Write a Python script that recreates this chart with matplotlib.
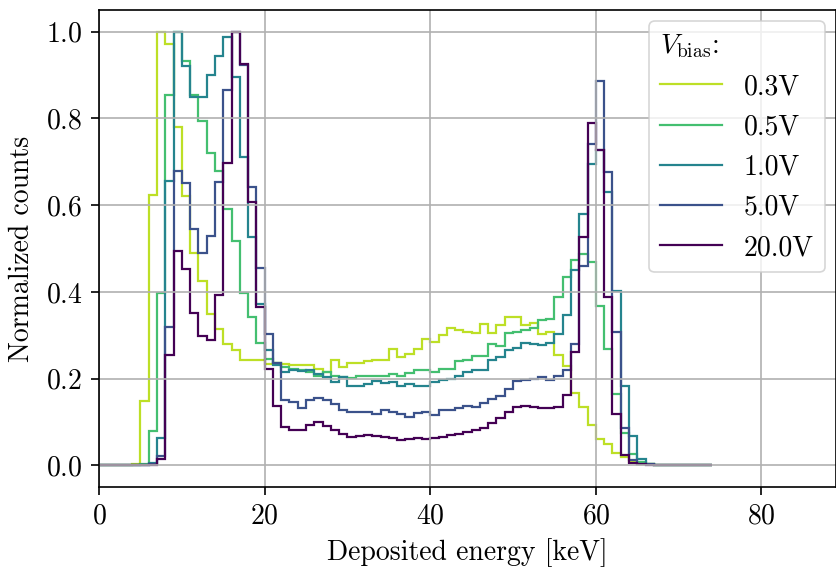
import numpy as np
import matplotlib
matplotlib.use("Agg")
import matplotlib.pyplot as plt

# Computer Modern look
plt.rcParams["font.family"] = "serif"
plt.rcParams["font.serif"] = ["cmr10"]
plt.rcParams["mathtext.fontset"] = "cm"
plt.rcParams["axes.formatter.use_mathtext"] = True
plt.rcParams["font.size"] = 20

# 1 keV bins from 0 to 74 keV
edges = np.arange(0, 75, 1)

bias_labels = ["0.3V", "0.5V", "1.0V", "5.0V", "20.0V"]

counts_03V = [
    0, 0, 0, 0, 0.004, 0.149, 0.623, 1.0, 0.972, 0.781,
    0.622, 0.49, 0.426, 0.348, 0.315, 0.28, 0.266, 0.242, 0.242, 0.242,
    0.234, 0.236, 0.234, 0.232, 0.232, 0.232, 0.222, 0.216, 0.243, 0.227,
    0.237, 0.235, 0.241, 0.243, 0.243, 0.269, 0.25, 0.257, 0.269, 0.292,
    0.284, 0.3, 0.317, 0.313, 0.307, 0.305, 0.326, 0.305, 0.323, 0.342,
    0.343, 0.323, 0.329, 0.303, 0.307, 0.255, 0.228, 0.167, 0.134, 0.093,
    0.061, 0.049, 0.028, 0.019, 0.008, 0.004, 0.002, 0.001, 0.001, 0.001,
    0.001, 0.001, 0.001, 0.001,
]
counts_05V = [
    0, 0, 0, 0, 0, 0.003, 0.08, 0.398, 0.855, 1.0,
    0.932, 0.855, 0.795, 0.721, 0.678, 0.59, 0.518, 0.398, 0.343, 0.282,
    0.245, 0.235, 0.227, 0.223, 0.219, 0.215, 0.207, 0.215, 0.207, 0.204,
    0.202, 0.205, 0.207, 0.207, 0.207, 0.21, 0.207, 0.213, 0.219, 0.22,
    0.215, 0.223, 0.221, 0.24, 0.242, 0.252, 0.253, 0.28, 0.276, 0.305,
    0.307, 0.313, 0.317, 0.334, 0.338, 0.389, 0.434, 0.474, 0.488, 0.469,
    0.368, 0.269, 0.165, 0.075, 0.025, 0.008, 0.003, 0.001, 0.001, 0.001,
    0.001, 0.001, 0.001, 0.001,
]
counts_10V = [
    0, 0, 0, 0, 0, 0, 0.005, 0.062, 0.656, 1.0,
    0.92, 0.85, 0.85, 0.9, 0.945, 0.988, 0.895, 0.712, 0.526, 0.372,
    0.267, 0.232, 0.215, 0.219, 0.217, 0.219, 0.211, 0.204, 0.192, 0.204,
    0.182, 0.184, 0.188, 0.194, 0.19, 0.192, 0.184, 0.188, 0.182, 0.184,
    0.192, 0.197, 0.2, 0.205, 0.215, 0.219, 0.219, 0.242, 0.25, 0.267,
    0.271, 0.282, 0.279, 0.277, 0.281, 0.302, 0.347, 0.451, 0.58, 0.694,
    0.726, 0.63, 0.403, 0.184, 0.068, 0.015, 0.004, 0.001, 0.001, 0.001,
    0.001, 0.001, 0.001, 0.001,
]
counts_50V = [
    0, 0, 0, 0, 0, 0, 0.002, 0.022, 0.32, 0.678,
    0.651, 0.544, 0.49, 0.528, 0.653, 0.866, 1.0, 0.922, 0.641, 0.455,
    0.302, 0.237, 0.15, 0.146, 0.133, 0.151, 0.155, 0.151, 0.142, 0.127,
    0.124, 0.124, 0.123, 0.118, 0.127, 0.123, 0.119, 0.111, 0.12, 0.123,
    0.115, 0.127, 0.127, 0.133, 0.136, 0.134, 0.144, 0.154, 0.159, 0.177,
    0.194, 0.196, 0.2, 0.204, 0.197, 0.207, 0.22, 0.28, 0.46, 0.741,
    0.886, 0.676, 0.307, 0.085, 0.012, 0.004, 0.002, 0.001, 0.001, 0.001,
    0.001, 0.001, 0.001, 0.001,
]
counts_200V = [
    0, 0, 0, 0, 0, 0, 0.001, 0.014, 0.254, 0.495,
    0.453, 0.352, 0.299, 0.29, 0.393, 0.697, 1.0, 0.925, 0.607, 0.365,
    0.222, 0.137, 0.088, 0.081, 0.081, 0.092, 0.1, 0.09, 0.081, 0.073,
    0.065, 0.067, 0.069, 0.067, 0.065, 0.063, 0.059, 0.061, 0.062, 0.061,
    0.064, 0.065, 0.071, 0.073, 0.077, 0.081, 0.087, 0.098, 0.108, 0.123,
    0.134, 0.136, 0.134, 0.133, 0.133, 0.134, 0.163, 0.262, 0.526, 0.789,
    0.726, 0.389, 0.119, 0.024, 0.005, 0.002, 0.001, 0.001, 0.001, 0.001,
    0.001, 0.001, 0.001, 0.001,
]

spectra = [counts_03V, counts_05V, counts_10V, counts_50V, counts_200V]
colors = plt.cm.viridis([0.9, 0.7, 0.45, 0.25, 0.0])

fig = plt.figure(figsize=(8.37, 5.74), dpi=100)
ax = fig.add_axes([0.1183, 0.1516, 0.8805, 0.831])

for vals, lab, col in zip(spectra, bias_labels, colors):
    ax.stairs(vals, edges, color=col, lw=1.6, label=lab)

ax.set_xlim(0, 89)
ax.set_ylim(-0.05, 1.05)
ax.set_xticks([0, 20, 40, 60, 80])
ax.set_yticks([0.0, 0.2, 0.4, 0.6, 0.8, 1.0])
ax.set_xlabel("Deposited energy [keV]", labelpad=6)
ax.set_ylabel("Normalized counts", labelpad=8)
ax.grid(True, color="#b0b0b0", lw=1.2)
ax.tick_params(length=6, width=1.2, pad=6)
for sp in ax.spines.values():
    sp.set_linewidth(1.2)

leg = ax.legend(title=r"$V_{\rm bias}$:", loc="upper right",
                alignment="left", fontsize=20, title_fontsize=20,
                handlelength=2.2, framealpha=0.8, edgecolor="0.8",
                borderaxespad=0.4)
leg.get_frame().set_linewidth(1.2)

fig.savefig("out.png", dpi=100)
